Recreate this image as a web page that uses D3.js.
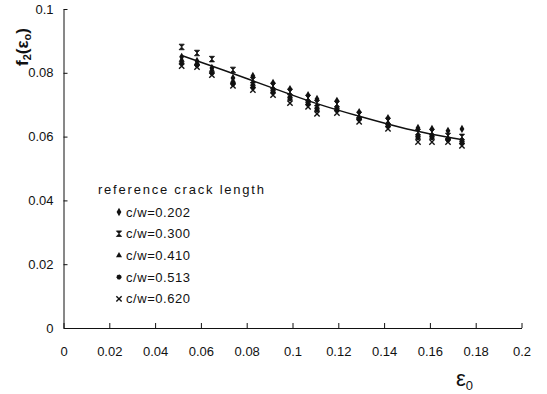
<!DOCTYPE html>
<html><head><meta charset="utf-8">
<script src="https://cdn.jsdelivr.net/npm/d3@7"></script>
<style>
body{margin:0;background:#fff;}
text{font-family:"Liberation Sans Narrow","Liberation Sans",Arial,sans-serif;}
</style></head>
<body><svg id="c" width="547" height="394"></svg>
<script>
const xs = [0.0516,0.0583,0.0648,0.0740,0.0827,0.0915,0.0989,0.1068,0.1107,0.1194,0.1291,0.1417,0.1548,0.1609,0.1679,0.1740];
const s202 = [0.0850,0.0837,0.0815,0.0784,0.0790,0.0768,0.0749,0.0730,0.0718,0.0712,0.0677,0.0658,0.0627,0.0624,0.0618,0.0624];
const s300 = [0.0881,0.0862,0.0843,0.0809,0.0777,0.0759,0.0740,0.0721,0.0705,0.0702,0.0668,0.0649,0.0614,0.0614,0.0602,0.0599];
const s410 = [0.0840,0.0831,0.0809,0.0774,0.0765,0.0749,0.0727,0.0712,0.0693,0.0693,0.0661,0.0643,0.0605,0.0605,0.0596,0.0589];
const s513 = [0.0831,0.0824,0.0799,0.0765,0.0755,0.0740,0.0718,0.0702,0.0683,0.0683,0.0655,0.0633,0.0596,0.0596,0.0589,0.0580];
const s620 = [0.0821,0.0818,0.0793,0.0759,0.0746,0.0730,0.0705,0.0693,0.0671,0.0674,0.0646,0.0624,0.0583,0.0583,0.0583,0.0571];
const fitX = [0.0516,0.07,0.09,0.11,0.13,0.15,0.1744];
const fitY = [0.0854,0.0808,0.0756,0.0705,0.0662,0.0624,0.0590];
const xTicks = [0,0.02,0.04,0.06,0.08,0.1,0.12,0.14,0.16,0.18,0.2];
const yTicks = [0,0.02,0.04,0.06,0.08,0.1];
const seriesNames = ["c/w=0.202","c/w=0.300","c/w=0.410","c/w=0.513","c/w=0.620"];
const seriesVals = [s202,s300,s410,s513,s620];

const svg = d3.select("#c");
const x = d3.scaleLinear().domain([0,0.2]).range([63.5,521.5]);
const y = d3.scaleLinear().domain([0,0.1]).range([328,9]);

// axes
const xa = svg.append("g").attr("transform","translate(0,328)")
  .call(d3.axisBottom(x).tickValues(xTicks).tickSizeInner(-5).tickSizeOuter(0).tickPadding(19).tickFormat(d=>d3.format("")(+d.toFixed(2))));
const ya = svg.append("g").attr("transform","translate(63.5,0)")
  .call(d3.axisLeft(y).tickValues(yTicks).tickSizeInner(-4).tickSizeOuter(0).tickPadding(10).tickFormat(d=>d3.format("")(+d.toFixed(2))));
[xa,ya].forEach(a=>{
  a.selectAll("path,line").attr("stroke","#111").attr("stroke-width",1);
  a.selectAll("text").attr("font-size",13).attr("fill","#111");
});

// symbols
const diamond = d3.symbol().type(d3.symbolDiamond).size(20);
const tri = d3.symbol().type(d3.symbolTriangle).size(16);
const circ = d3.symbol().type(d3.symbolCircle).size(18);
const hourglass = "M-2.6,-2.8L2.6,-2.8L0,0L2.6,2.8L-2.6,2.8L0,0Z";
const cross = d3.symbol().type(d3.symbolX).size(20);
function drawSym(g,i){
  if(i===0) g.append("path").attr("d",diamond()).attr("fill","#111");
  else if(i===1) g.append("path").attr("d",hourglass).attr("fill","#111").attr("stroke","#111").attr("stroke-width",0.8);
  else if(i===2) g.append("path").attr("d",tri()).attr("fill","#111");
  else if(i===3) g.append("path").attr("d",circ()).attr("fill","#111").attr("stroke","#111").attr("stroke-width",0.6).attr("stroke-dasharray","1,1");
  else g.append("path").attr("d",cross()).attr("fill","none").attr("stroke","#111").attr("stroke-width",1.4);
}

// points
seriesVals.forEach((vals,i)=>{
  vals.forEach((v,j)=>{
    const g = svg.append("g").attr("transform",`translate(${x(xs[j])},${y(v)})`);
    drawSym(g,i);
  });
});

// fit line
svg.append("path").datum(fitX.map((d,i)=>[d,fitY[i]]))
  .attr("d",d3.line().x(d=>x(d[0])).y(d=>y(d[1])).curve(d3.curveMonotoneX))
  .attr("fill","none").attr("stroke","#111").attr("stroke-width",1.5);

// legend
svg.append("text").attr("x",98).attr("y",194).attr("font-size",13).attr("fill","#111")
  .attr("textLength",166).attr("lengthAdjust","spacing").text("reference crack length");
seriesNames.forEach((n,i)=>{
  const yy = 212 + i*21.7;
  const g = svg.append("g").attr("transform",`translate(119,${yy})`);
  drawSym(g,i);
  svg.append("text").attr("x",126).attr("y",yy+4.5).attr("font-size",13).attr("fill","#111")
    .attr("textLength",64).attr("lengthAdjust","spacing").text(n);
});

// axis titles
svg.append("text").attr("transform","translate(28,47) rotate(-90)").attr("text-anchor","middle")
  .attr("font-size",17).attr("font-weight","bold").attr("fill","#111")
  .html('f<tspan font-size="11" dy="3">2</tspan><tspan dy="-3">(</tspan><tspan>ε</tspan><tspan font-size="11" dy="3">o</tspan><tspan dy="-3">)</tspan>');
svg.append("text").attr("x",456).attr("y",386).attr("font-size",22).attr("font-family","Liberation Serif, serif").attr("fill","#111")
  .html('ε<tspan font-size="13" dy="4">0</tspan>');
</script></body></html>
